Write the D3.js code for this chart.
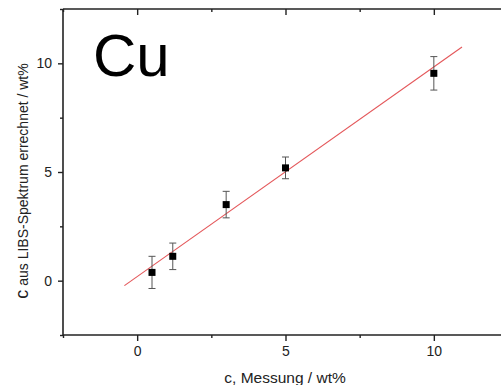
<!DOCTYPE html>
<html><head><meta charset="utf-8">
<script src="https://cdn.jsdelivr.net/npm/d3@7/dist/d3.min.js"></script>
<style>body{margin:0;background:#fff}svg{display:block}text{font-family:"Liberation Sans",Arial,sans-serif}</style>
</head><body>
<script>
// data
const measured = [0.5, 1.2, 3, 5, 10];
const computed = [0.38, 1.12, 3.5, 5.19, 9.54];
const errors = [0.74, 0.61, 0.61, 0.5, 0.77];
const fitX = [-0.43, 10.95];
const fitY = [-0.23, 10.75];
const majorTicks = [0, 5, 10];
const minorTicks = [-2.5, 2.5, 7.5, 12.5];
const element = "Cu";

const W = 501, H = 385;
const svg = d3.select("body").append("svg").attr("width", W).attr("height", H);
const x = d3.scaleLinear().domain([-2.5, 12.5]).range([63, 508]);
const y = d3.scaleLinear().domain([-2.5, 12.5]).range([335, 9]);
const ink = "#222";

// frame
const frame = svg.append("g").attr("stroke", ink).attr("stroke-width", 1.6).attr("fill", "none");
frame.append("line").attr("x1", x(-2.5)).attr("x2", x(12.5)).attr("y1", y(-2.5)).attr("y2", y(-2.5));
frame.append("line").attr("x1", x(-2.5)).attr("x2", x(12.5)).attr("y1", y(12.5)).attr("y2", y(12.5));
frame.append("line").attr("x1", x(-2.5)).attr("x2", x(-2.5)).attr("y1", y(-2.5)).attr("y2", y(12.5));
frame.append("line").attr("x1", x(12.5)).attr("x2", x(12.5)).attr("y1", y(-2.5)).attr("y2", y(12.5));

// bottom axis
svg.append("g").attr("transform", `translate(0,${y(-2.5)})`)
  .call(d3.axisBottom(x).tickValues(majorTicks).tickSize(6).tickPadding(5).tickFormat(d3.format("d")));
svg.append("g").attr("transform", `translate(0,${y(-2.5)})`)
  .call(d3.axisBottom(x).tickValues(minorTicks).tickSize(3).tickFormat(""));
// top axis (ticks inward)
svg.append("g").attr("transform", `translate(0,${y(12.5)})`)
  .call(d3.axisBottom(x).tickValues(majorTicks).tickSize(6).tickFormat(""));
svg.append("g").attr("transform", `translate(0,${y(12.5)})`)
  .call(d3.axisBottom(x).tickValues(minorTicks).tickSize(3).tickFormat(""));
// left axis
svg.append("g").attr("transform", `translate(${x(-2.5)},0)`)
  .call(d3.axisLeft(y).tickValues(majorTicks).tickSize(5).tickPadding(6).tickFormat(d3.format("d")));
svg.append("g").attr("transform", `translate(${x(-2.5)},0)`)
  .call(d3.axisLeft(y).tickValues(minorTicks).tickSize(3).tickFormat(""));

svg.selectAll(".domain").remove();
svg.selectAll(".tick line").attr("stroke", ink).attr("stroke-width", 1.4);
svg.selectAll(".tick text").attr("fill", "#222").style("font-size", "14px");

// fit line
svg.append("line")
  .attr("x1", x(fitX[0])).attr("y1", y(fitY[0]))
  .attr("x2", x(fitX[1])).attr("y2", y(fitY[1]))
  .attr("stroke", "#e4575a").attr("stroke-width", 1.1);

// error bars
const eb = svg.append("g").attr("stroke", "#555").attr("stroke-width", 1);
measured.forEach((m, i) => {
  const cx = x(m), y1 = y(computed[i] + errors[i]), y2 = y(computed[i] - errors[i]);
  eb.append("line").attr("x1", cx).attr("x2", cx).attr("y1", y1).attr("y2", y2);
  eb.append("line").attr("x1", cx - 3.5).attr("x2", cx + 3.5).attr("y1", y1).attr("y2", y1);
  eb.append("line").attr("x1", cx - 3.5).attr("x2", cx + 3.5).attr("y1", y2).attr("y2", y2);
});

// markers
svg.append("g").selectAll("rect").data(measured).join("rect")
  .attr("x", d => x(d) - 3.5).attr("y", (d, i) => y(computed[i]) - 3.5)
  .attr("width", 7).attr("height", 7).attr("fill", "#000");

// element label
svg.append("text").attr("x", 93).attr("y", 76).style("font-size", "60px").attr("fill", "#000").text(element);

// axis titles
svg.append("text").attr("x", 285).attr("y", 383).attr("text-anchor", "middle")
  .style("font-size", "15.5px").attr("fill", "#222").text("c, Messung / wt%");
const yl = svg.append("text").attr("transform", "translate(28,181) rotate(-90)").attr("text-anchor", "middle").attr("fill", "#222");
yl.append("tspan").style("font-size", "18px").text("c");
yl.append("tspan").style("font-size", "14px").text(" aus LIBS-Spektrum errechnet / wt%");
</script>
</body></html>
